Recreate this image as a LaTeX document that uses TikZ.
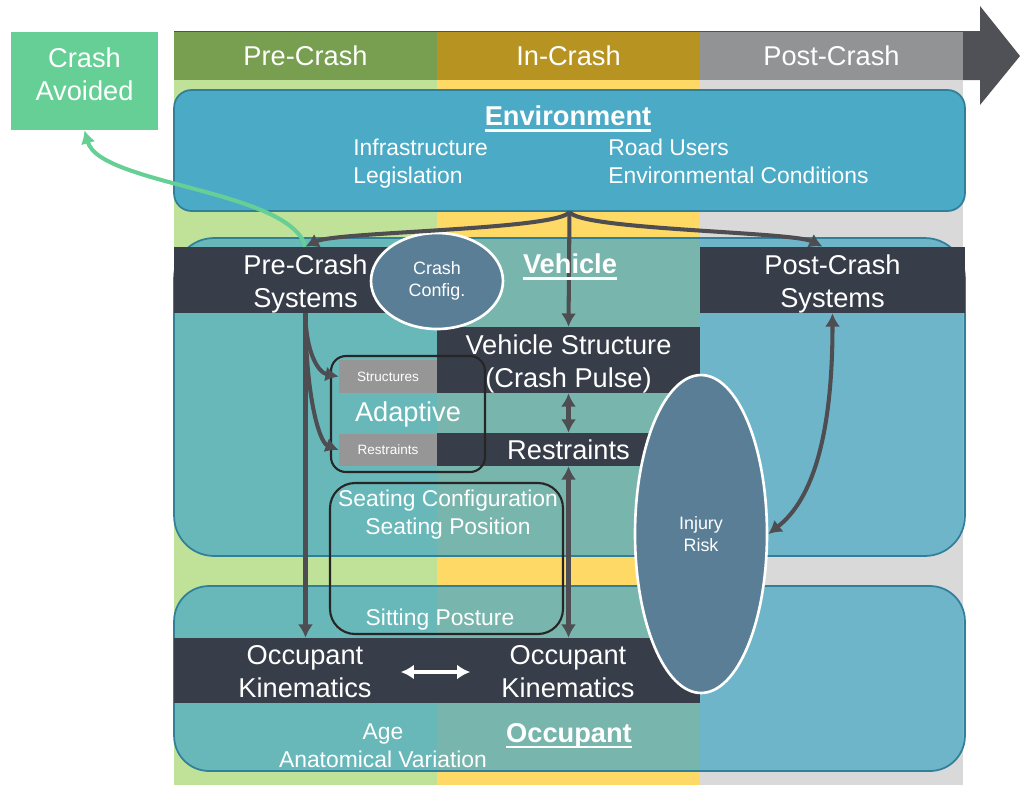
\documentclass[tikz,border=0pt]{standalone}
\usepackage{fontspec}
\setmainfont{Liberation Sans}
\usepackage{tikz}
\usetikzlibrary{arrows.meta, shapes.geometric}
\tikzset{>={Latex[length=7.5pt,width=8.5pt]}}
\definecolor{hpre}{RGB}{120, 158, 80}
\definecolor{hin}{RGB}{183, 147, 34}
\definecolor{hpost}{RGB}{146, 147, 149}
\definecolor{bpre}{RGB}{192, 226, 152}
\definecolor{bin}{RGB}{255, 217, 102}
\definecolor{bpost}{RGB}{217, 217, 217}
\definecolor{sdark}{RGB}{80, 81, 86}
\definecolor{steal}{RGB}{75, 170, 198}
\definecolor{sedge}{RGB}{49, 128, 154}
\definecolor{sband}{RGB}{55, 61, 73}
\definecolor{sslate}{RGB}{90, 126, 149}
\definecolor{sgrey}{RGB}{150, 150, 150}
\definecolor{smint}{RGB}{102, 207, 150}
\definecolor{sarrow}{RGB}{77, 77, 82}
\newcommand\bigtxt{\fontsize{15.5}{18.7}\selectfont}
\newcommand\midtxt{\fontsize{13}{16}\selectfont}
\newcommand\smalltxt{\fontsize{10.2}{12.2}\selectfont}
\newcommand\tinytxt{\fontsize{7.7}{9}\selectfont}
\newcommand\ulbold[1]{\setbox0\hbox{#1}\rlap{\rule[-3.3pt]{\wd0}{1.4pt}}\box0}

\begin{document}
\begin{tikzpicture}[x=0.02cm, y=-0.02cm,
    phase/.style={text=white, font=\bigtxt},
    area/.style={draw=sedge, line width=1pt, fill=steal, rounded corners=#1},
    band/.style={fill=sband, text=white, font=\bigtxt, align=center, inner sep=0pt},
    twoline/.style={text height=34.3pt},
    greybox/.style={fill=sgrey, text=white, font=\tinytxt, inner sep=0pt},
    groupbox/.style={draw=black!85, line width=1.2pt, rounded corners=#1},
    blob/.style={ellipse, fill=sslate, draw=white, line width=1.5pt, text=white, align=center, inner sep=0pt},
    lbl/.style={text=white, font=\midtxt, align=center},
    heading/.style={text=white, font=\bigtxt\bfseries},
    conn/.style={draw=sarrow, line width=2.3pt}
  ]
  \useasboundingbox (0,0) rectangle (1020,785);

  \def \colw {263}

  % time line
  \fill[sdark] (174,31) -- (980,31) -- (980,6) -- (1020,56) -- (980,105) -- (980,80) -- (174,80) -- cycle;
  \foreach \x/\hc/\bc/\name/\lab in {174/hpre/bpre/pre/Pre-Crash, 437/hin/bin/in/In-Crash, 700/hpost/bpost/post/Post-Crash} {
      \fill[\bc] (\x,80) rectangle ++(\colw,705);
      \fill[\hc] (\x,32) rectangle ++(\colw,48);
      \node[phase] (hdr\name) at ({\x+\colw/2},56) {\lab};
  }

  \node[fill=smint, minimum width=2.94cm, minimum height=1.96cm] (avoided) at (84.5,81) {};
  \node[phase, align=center] (avoidedtxt) at (84.5,74) {Crash\\Avoided};

  % levels
  \node[area=0.35cm, minimum width=15.82cm, minimum height=2.42cm] (env) at (569.5,150.5) {};
  \node[area=0.8cm, fill opacity=0.75, minimum width=15.82cm, minimum height=6.36cm] (veh) at (569.5,397) {};
  \node[area=0.7cm, fill opacity=0.75, minimum width=15.82cm, minimum height=3.7cm] (occ) at (569.5,678.5) {};

  \node[band, twoline, minimum width=5.26cm, minimum height=1.32cm] (precrash) at (305.5,280) {Pre-Crash\\Systems};
  \node[band, twoline, minimum width=5.3cm, minimum height=1.32cm] (postcrash) at (832.5,280) {Post-Crash\\Systems};
  \node[band, twoline, minimum width=5.26cm, minimum height=1.32cm] (vstruct) at (568.5,360) {Vehicle Structure\\(Crash Pulse)};
  \node[band, minimum width=5.26cm, minimum height=0.66cm] (restr) at (568.5,449.5) {Restraints};
  \node[band, minimum width=10.52cm, minimum height=1.3cm] (okband) at (437,670.5) {};
  \node[phase, align=center] (okleft) at (305,672) {Occupant\\Kinematics};
  \node[phase, align=center] (okright) at (568,672) {Occupant\\Kinematics};

  \node[greybox, minimum width=1.96cm, minimum height=0.66cm] (structs) at (388,376.5) {Structures};
  \node[greybox, minimum width=1.96cm, minimum height=0.64cm] (rests) at (388,450) {Restraints};
  \node[groupbox=0.3cm, minimum width=3.08cm, minimum height=2.32cm, text=white, font=\bigtxt] (adaptive) at (408,414) {Adaptive};
  \node[groupbox=0.5cm, minimum width=4.66cm, minimum height=3.02cm] (seating) at (446.5,558.5) {};

  \node[blob, minimum width=2.64cm, minimum height=1.92cm, font=\smalltxt] (config) at (437,281) {Crash\\Config.};
  \node[blob, minimum width=2.64cm, minimum height=6.36cm, font=\smalltxt] (injury) at (701,534) {Injury\\Risk};

  % links
  \draw[conn, draw=smint, ->] (precrash.north) .. controls (290,190) and (100,185) .. (avoided.south);
  \draw[conn, ->] (env.south) .. controls +(-10,18) and +(30,-15) .. (precrash.north);
  \draw[conn, ->] (env.south) .. controls +(10,18) and +(-30,-15) .. ([xshift=-0.2cm]postcrash.north);
  \draw[conn, ->] (env.south) -- (vstruct.north);
  \draw[conn, <->] (vstruct.south) -- (restr.north);
  \draw[conn, <->] (restr.south) -- (restr.south |- okband.north);
  \draw[conn, ->] (precrash.south) -- (precrash.south |- okband.north);
  \draw[conn, ->] (precrash.south) .. controls +(0,37) and +(-21,-4) .. (structs.west);
  \draw[conn, ->] (precrash.south) .. controls +(0,80) and +(-20,-8) .. (rests.west);
  \draw[conn, <->] (postcrash.south) .. controls +(0,120) and +(45,-35) .. (injury.east);
  \draw[conn, draw=white, <->, shorten <=0.46cm, shorten >=0.5cm] (okleft.east) -- (okright.west);

  % texts
  \node[heading] (envtitle) at (568,119) {\ulbold{Environment}};
  \node[lbl, anchor=west, align=left, inner sep=0pt] (envleft) at (353,164) {Infrastructure\\Legislation};
  \node[lbl, anchor=west, align=left, inner sep=0pt] (envright) at (608,161) {Road Users\\Environmental Conditions};
  \node[heading] (vehtitle) at (570,267) {\ulbold{Vehicle}};
  \node[heading] (occtitle) at (569,736) {\ulbold{Occupant}};
  \node[lbl] (seattxt) at (448,515) {Seating Configuration\\Seating Position};
  \node[lbl] (posture) at (440,620) {Sitting Posture};
  \node[lbl] (agetxt) at (383,746) {Age\\Anatomical Variation};

\end{tikzpicture}
\end{document}
